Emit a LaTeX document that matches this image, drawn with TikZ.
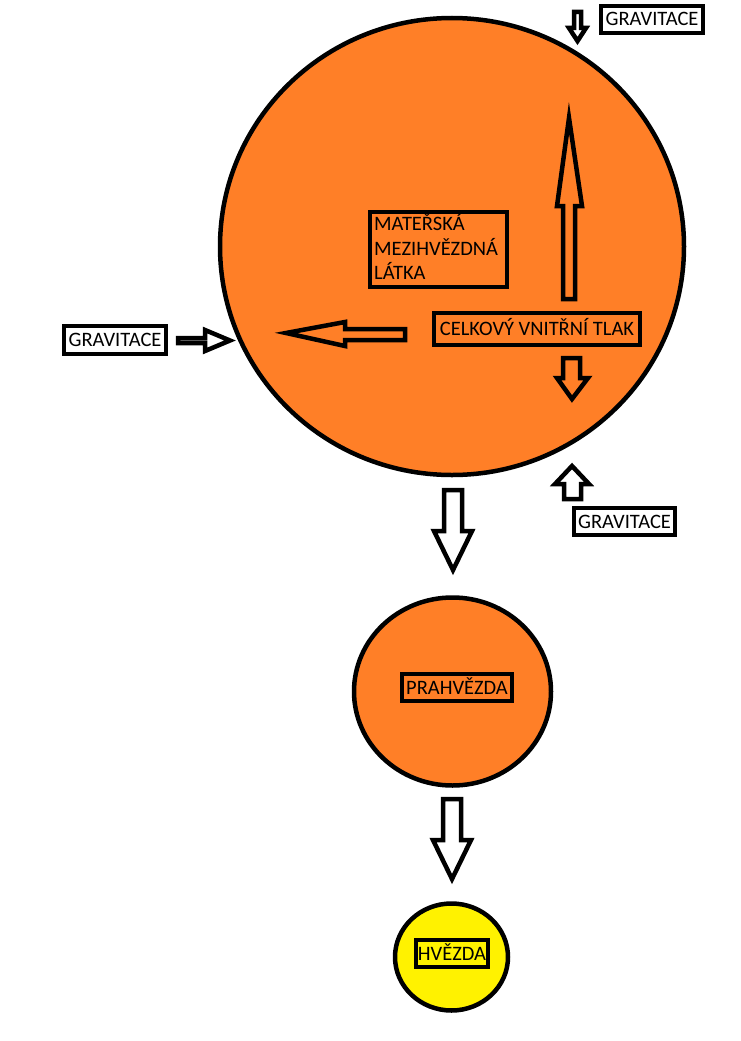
\documentclass[tikz,border=0pt]{standalone}
\usepackage{fontspec}
\setmainfont{Carlito}
\usetikzlibrary{shapes.geometric}
\definecolor{paintorange}{HTML}{FF7F27}
\definecolor{paintyellow}{HTML}{FFF200}
\tikzset{
  blob/.style={draw=black, line width=4.5pt},
  labelbox/.style={draw=black, line width=4pt, inner sep=0pt, text height=13pt, text depth=0pt,
    font=\fontsize{20.5}{24.5}\selectfont},
  blockarrow/.style={draw=black, line width=4.5pt, line join=miter, miter limit=10},
}
\begin{document}
\begin{tikzpicture}[x=1pt,y=-1pt]
\useasboundingbox (0,0) rectangle (740,1041);
\fill[white] (0,0) rectangle (740,1041);

% bodies
\node[blob, ellipse, fill=paintorange, minimum width=464, minimum height=457, inner sep=0] (cloud) at (452,246.5) {};
\node[blob, ellipse, fill=paintorange, minimum width=197, minimum height=188, inner sep=0] (proto) at (452.5,691.5) {};
\node[blob, ellipse, fill=paintyellow, minimum width=113, minimum height=107, inner sep=0] (star) at (451.5,957) {};

% label boxes
\node[labelbox, fill=white, minimum width=102, minimum height=27] (g1) at (652,19.5) {GRAVITACE};
\node[labelbox, fill=white, minimum width=102, minimum height=28] (g2) at (115,340) {GRAVITACE};
\node[labelbox, fill=white, minimum width=101, minimum height=27] (g3) at (624.5,521.5) {GRAVITACE};
\node[labelbox, minimum width=137, minimum height=75] (mat) at (438.5,249.5) {};
\node[font=\fontsize{20.5}{24.5}\selectfont, align=left, inner sep=0pt, anchor=base west] (matt) at (374,279.5) {MATEŘSKÁ\\MEZIHVĚZDNÁ\\LÁTKA};
\node[labelbox, minimum width=206, minimum height=32] (tlak) at (537,329) {CELKOVÝ VNITŘNÍ TLAK};
\node[labelbox, minimum width=110, minimum height=27] (prah) at (457,687.5) {PRAHVĚZDA};
\node[labelbox, minimum width=72, minimum height=27] (hv) at (452,953.5) {HVĚZDA};

% block arrows
% gravity from top (down)
\draw[blockarrow] (574,12) -- (581,12) -- (581,28) -- (586,28) -- (577.5,41) -- (569,28) -- (574,28) -- cycle;
% gravity from left (right)
\draw[blockarrow] (178,338) -- (205,338) -- (205,330) -- (230,340.5) -- (205,351) -- (205,343) -- (178,343) -- cycle;
% gravity from bottom (up)
\draw[blockarrow] (564,499) -- (564,484) -- (555,484) -- (572,466) -- (589,484) -- (581,484) -- (581,499) -- cycle;
% pressure up
\draw[blockarrow] (563,299) -- (563,206) -- (557,206) -- (569,118) -- (582,206) -- (575,206) -- (575,299) -- cycle;
% pressure left
\draw[blockarrow] (405,329) -- (345,329) -- (345,322) -- (286,333) -- (345,346) -- (345,340) -- (405,340) -- cycle;
% pressure down
\draw[blockarrow] (563,358) -- (580,358) -- (580,378) -- (588,378) -- (572,399) -- (557,378) -- (563,378) -- cycle;
% evolution arrows
\draw[blockarrow] (444,490) -- (462,490) -- (462,531) -- (472,531) -- (453,570) -- (434,531) -- (444,531) -- cycle;
\draw[blockarrow] (443,799) -- (461,799) -- (461,840) -- (471,840) -- (452,879) -- (433,840) -- (443,840) -- cycle;
\end{tikzpicture}
\end{document}
